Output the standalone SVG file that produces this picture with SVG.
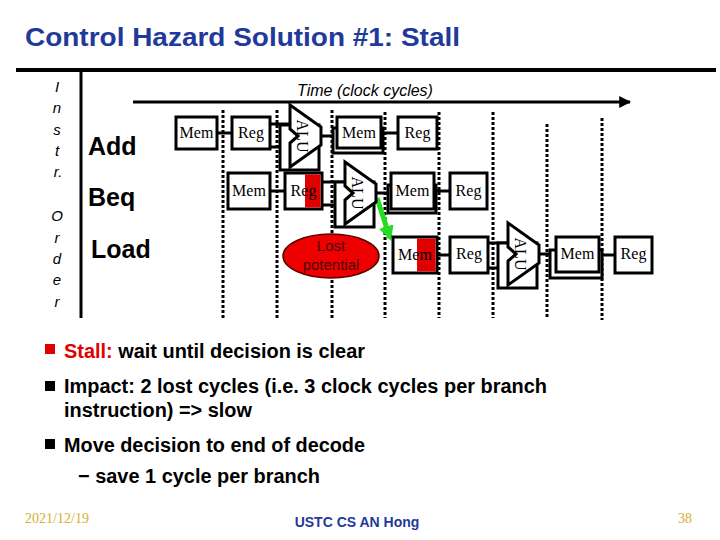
<svg xmlns="http://www.w3.org/2000/svg" width="720" height="540" viewBox="0 0 720 540">
<defs>
<style>
.box{fill:#fff;stroke:#000;stroke-width:3}
.bt{font-family:"Liberation Serif",serif;font-size:16px;fill:#000;text-anchor:middle}
.alu{fill:#fff;stroke:#000;stroke-width:3;stroke-linejoin:miter}
.wire{stroke:#000;stroke-width:3;fill:none}
.dash{stroke:#000;stroke-width:3;stroke-dasharray:3 2;fill:none}
.ord{font-family:"Liberation Sans",sans-serif;font-style:italic;font-size:15px;text-anchor:middle;fill:#000}
.ins{font-family:"Liberation Sans",sans-serif;font-weight:bold;font-size:25px;fill:#000}
.bul{font-family:"Liberation Sans",sans-serif;font-weight:bold;font-size:20px;fill:#000}
</style>
<marker id="ah" viewBox="0 0 10 10" refX="9" refY="5" markerWidth="4" markerHeight="4" orient="auto"><path d="M0,0 L10,5 L0,10 z" fill="#000"/></marker>
<marker id="gh" viewBox="0 0 10 10" refX="8" refY="5" markerWidth="3" markerHeight="3" orient="auto"><path d="M0,0 L10,5 L0,10 z" fill="#22dd22"/></marker>
<g id="alushape">
<rect x="-10" y="20" width="39" height="45" class="box"/>
<polygon class="alu" points="0,0 31,22 31,40 0,62 0,38 8,31 0,24"/>
<text class="bt" transform="translate(12,31) rotate(90)" y="5">ALU</text>
</g>
</defs>
<rect width="720" height="540" fill="#fff"/>

<text x="25" y="46" font-family="Liberation Sans, sans-serif" font-weight="bold" font-size="26" fill="#1f3a9a" textLength="435" lengthAdjust="spacingAndGlyphs">Control Hazard Solution #1: Stall</text>

<g id="frame">
<line x1="16" y1="70" x2="716" y2="70" stroke="#000" stroke-width="4"/>
<line x1="81" y1="70" x2="81" y2="318" stroke="#000" stroke-width="3"/>
<text x="365" y="96" font-family="Liberation Sans, sans-serif" font-style="italic" font-size="16" text-anchor="middle">Time (clock cycles)</text>
<line x1="133" y1="102" x2="630" y2="102" stroke="#000" stroke-width="3" marker-end="url(#ah)"/>
</g>

<g id="order">
<text class="ord" x="57" y="92">I</text>
<text class="ord" x="57" y="113">n</text>
<text class="ord" x="57" y="135">s</text>
<text class="ord" x="57" y="156">t</text>
<text class="ord" x="58" y="177">r.</text>
<text class="ord" x="57" y="221">O</text>
<text class="ord" x="57" y="243">r</text>
<text class="ord" x="57" y="264">d</text>
<text class="ord" x="57" y="285">e</text>
<text class="ord" x="57" y="307">r</text>
</g>

<g id="labels">
<text class="ins" x="88" y="155">Add</text>
<text class="ins" x="88" y="206">Beq</text>
<text class="ins" x="91" y="258">Load</text>
</g>

<g id="cycles">
<line class="dash" x1="223" y1="110" x2="223" y2="318"/>
<line class="dash" x1="277" y1="110" x2="277" y2="318"/>
<line class="dash" x1="332" y1="110" x2="332" y2="318"/>
<line class="dash" x1="385" y1="112" x2="385" y2="318"/>
<line class="dash" x1="439" y1="112" x2="439" y2="318"/>
<line class="dash" x1="493" y1="112" x2="493" y2="318"/>
<line class="dash" x1="547" y1="124" x2="547" y2="318"/>
<line class="dash" x1="602" y1="118" x2="602" y2="320"/>
</g>

<g id="connectors">
<line class="wire" x1="217" y1="133" x2="232" y2="133"/>
<line class="wire" x1="270" y1="124" x2="290" y2="124"/>
<line class="wire" x1="270" y1="147" x2="290" y2="147"/>
<line class="wire" x1="320" y1="136" x2="337" y2="136"/>
<line class="wire" x1="381" y1="133" x2="398" y2="133"/>
<line class="wire" x1="270" y1="191" x2="285" y2="191"/>
<line class="wire" x1="322" y1="182" x2="345" y2="182"/>
<line class="wire" x1="322" y1="205" x2="345" y2="205"/>
<line class="wire" x1="373" y1="193" x2="391" y2="193"/>
<line class="wire" x1="434" y1="191" x2="450" y2="191"/>
<line class="wire" x1="437" y1="255" x2="450" y2="255"/>
<line class="wire" x1="488" y1="243" x2="508" y2="243"/>
<line class="wire" x1="488" y1="268" x2="508" y2="268"/>
<line class="wire" x1="536" y1="254" x2="556" y2="254"/>
<line class="wire" x1="599" y1="255" x2="615" y2="255"/>
<line x1="377" y1="198" x2="390" y2="238" stroke="#22dd22" stroke-width="5" marker-end="url(#gh)"/>
</g>

<g id="add-row">
<g id="add-if"><rect class="box" x="176" y="117" width="41" height="32"/><text class="bt" x="196.5" y="138">Mem</text></g>
<g id="add-id"><rect class="box" x="232" y="117" width="38" height="32"/><text class="bt" x="251" y="138">Reg</text></g>
<g id="add-ex"><use href="#alushape" x="290" y="105"/></g>
<g id="add-mem"><rect class="box" x="333" y="128" width="50" height="25"/><rect class="box" x="337" y="117" width="44" height="31"/><text class="bt" x="359" y="138">Mem</text></g>
<g id="add-wb"><rect class="box" x="398" y="117" width="39" height="32"/><text class="bt" x="417.5" y="138">Reg</text></g>
</g>

<g id="beq-row">
<g id="beq-if"><rect class="box" x="228" y="173" width="42" height="36"/><text class="bt" x="249" y="196">Mem</text></g>
<g id="beq-id"><rect class="box" x="285" y="173" width="37" height="36"/><rect x="305" y="174.5" width="15.5" height="33" fill="#e00000"/><text class="bt" x="303.5" y="196">Reg</text></g>
<g id="beq-ex"><use href="#alushape" x="345" y="162"/></g>
<g id="beq-mem"><rect class="box" x="388" y="185" width="48" height="28"/><rect class="box" x="391" y="173" width="43" height="36"/><text class="bt" x="412.5" y="196">Mem</text></g>
<g id="beq-wb"><rect class="box" x="450" y="173" width="37" height="36"/><text class="bt" x="468.5" y="196">Reg</text></g>
</g>

<g id="lost">
<ellipse cx="331" cy="256" rx="48" ry="22" fill="#ee0000" stroke="#5a0000" stroke-width="1.5"/>
<text x="331" y="251" font-family="Liberation Sans, sans-serif" font-size="15" fill="#4a0505" text-anchor="middle">Lost</text>
<text x="331" y="270" font-family="Liberation Sans, sans-serif" font-size="15" fill="#4a0505" text-anchor="middle">potential</text>
</g>

<g id="load-row">
<g id="load-if"><rect class="box" x="393" y="237" width="44" height="36"/><rect x="417" y="238.5" width="18.5" height="33" fill="#e00000"/><text class="bt" x="415" y="260">Mem</text></g>
<g id="load-id"><rect class="box" x="450" y="237" width="38" height="36"/><text class="bt" x="469" y="259">Reg</text></g>
<g id="load-ex"><use href="#alushape" x="508" y="223"/></g>
<g id="load-mem"><rect class="box" x="550" y="250" width="52" height="28"/><rect class="box" x="556" y="237" width="43" height="35"/><text class="bt" x="577.5" y="259">Mem</text></g>
<g id="load-wb"><rect class="box" x="615" y="237" width="37" height="36"/><text class="bt" x="633.5" y="259">Reg</text></g>
</g>

<g id="bullets">
<rect x="45" y="344" width="10" height="10" fill="#e00000"/>
<text class="bul" x="64" y="358" textLength="301" lengthAdjust="spacingAndGlyphs"><tspan fill="#e00000">Stall:</tspan> wait until decision is clear</text>
<rect x="45" y="381" width="10" height="10" fill="#000"/>
<text class="bul" x="64" y="393" textLength="483" lengthAdjust="spacingAndGlyphs">Impact: 2 lost cycles (i.e. 3 clock cycles per branch</text>
<text class="bul" x="64" y="417" textLength="188" lengthAdjust="spacingAndGlyphs">instruction) =&gt; slow</text>
<rect x="45" y="439" width="10" height="10" fill="#000"/>
<text class="bul" x="64" y="452" textLength="301" lengthAdjust="spacingAndGlyphs">Move decision to end of decode</text>
<text class="bul" x="78" y="483" textLength="242" lengthAdjust="spacingAndGlyphs">− save 1 cycle per branch</text>
</g>

<g id="footer">
<text x="25" y="523" font-family="Liberation Serif, serif" font-size="14" fill="#d4b030" textLength="64" lengthAdjust="spacingAndGlyphs">2021/12/19</text>
<text x="357" y="527" font-family="Liberation Sans, sans-serif" font-weight="bold" font-size="14" fill="#1f3a9a" text-anchor="middle">USTC CS AN Hong</text>
<text x="685" y="523" font-family="Liberation Serif, serif" font-size="14" fill="#d4b030" text-anchor="middle">38</text>
</g>
</svg>
